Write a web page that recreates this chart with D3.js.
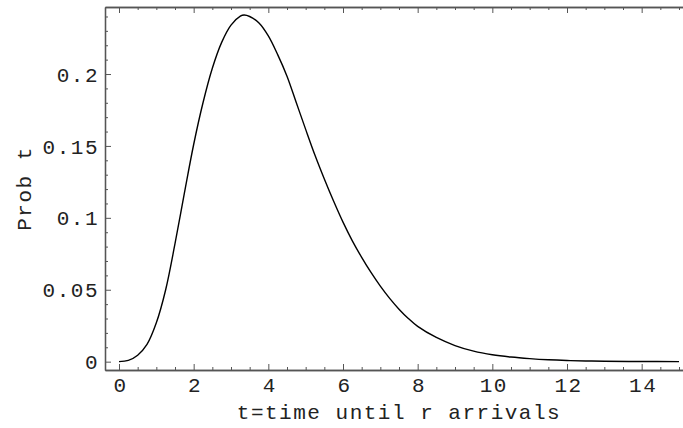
<!DOCTYPE html>
<html>
<head>
<meta charset="utf-8">
<script src="https://cdn.jsdelivr.net/npm/d3@7"></script>
<style>
  body { margin: 0; background: #fff; }
  svg { display: block; }
  text { font-family: "Liberation Mono", "DejaVu Sans Mono", monospace; fill: #222; }
</style>
</head>
<body>
<div id="chart"></div>
<script>
// curve samples
const tValues = [0, 0.25, 0.5, 0.75, 1.0, 1.25, 1.5, 1.75, 2.0, 2.25, 2.5, 2.75, 3.0, 3.25, 3.35, 3.5, 3.75,
  4.0, 4.25, 4.5, 4.75, 5.0, 5.25, 5.5, 5.75, 6.0, 6.25, 6.5, 6.75, 7.0, 7.25, 7.5, 7.75, 8.0, 8.5, 9.0,
  9.5, 10.0, 10.5, 11.0, 11.5, 12.0, 12.5, 13.0, 14.0, 15.0];
const probValues = [0, 0.0009, 0.0045, 0.012, 0.027, 0.050, 0.082, 0.117, 0.151, 0.180, 0.204, 0.222, 0.234, 0.2402, 0.241, 0.2400, 0.2355,
  0.2265, 0.2135, 0.1985, 0.180, 0.1615, 0.1435, 0.127, 0.1115, 0.097, 0.084, 0.0725, 0.062, 0.0525, 0.044, 0.0365, 0.030, 0.0245, 0.0168, 0.0112,
  0.0073, 0.0048, 0.0032, 0.0021, 0.0013, 0.0008, 0.0005, 0.0003, 0.0001, 0.00002];

const xTicks = [0, 2, 4, 6, 8, 10, 12, 14];
const yTicks = [0, 0.05, 0.1, 0.15, 0.2];
const yTickLabels = ["0", "0.05", "0.1", "0.15", "0.2"];

const xLabel = "t=time until r arrivals";
const yLabel = "Prob t";

const width = 683, height = 428;
const frame = {left: 105, right: 693, top: 7, bottom: 370};

const x = d3.scaleLinear()
  .domain([-0.375, 15.375])
  .range([frame.left, frame.right]);

const y = d3.scaleLinear()
  .domain([-0.0058, 0.2466])
  .range([frame.bottom, frame.top]);

const svg = d3.select("#chart")
  .append("svg")
  .attr("width", width)
  .attr("height", height);

// minor ticks every 0.5 on x, every 0.01 on y
const xMinor = d3.range(0, 15.01, 0.5).filter(v => !xTicks.includes(v));
const yMinor = d3.range(0, 0.245, 0.01).filter(v => !yTicks.some(t => Math.abs(t - v) < 1e-9));

const frameColor = "#555";

function styleAxis(g) {
  g.select(".domain").attr("stroke", frameColor).attr("stroke-width", 1.3);
  g.selectAll(".tick line").attr("stroke", frameColor).attr("stroke-width", 1);
  g.selectAll(".tick text")
    .style("font-size", "21px")
    .style("letter-spacing", "1.5px")
    .attr("fill", "#222");
}

// bottom axis
svg.append("g")
  .attr("transform", `translate(0,${frame.bottom})`)
  .call(d3.axisBottom(x).tickValues(xMinor).tickSize(-3).tickSizeOuter(0).tickFormat(""))
  .call(styleAxis);
svg.append("g")
  .attr("transform", `translate(0,${frame.bottom})`)
  .call(d3.axisBottom(x).tickValues(xTicks).tickSize(-6).tickSizeOuter(0).tickPadding(8).tickFormat(d3.format("d")))
  .call(styleAxis)
  .call(g => g.selectAll(".tick text").attr("y", 22).attr("dy", 0).attr("dx", "1px"));

// top axis (frame)
svg.append("g")
  .attr("transform", `translate(0,${frame.top})`)
  .call(d3.axisTop(x).tickValues(xMinor).tickSize(-3).tickSizeOuter(0).tickFormat(""))
  .call(styleAxis);
svg.append("g")
  .attr("transform", `translate(0,${frame.top})`)
  .call(d3.axisTop(x).tickValues(xTicks).tickSize(-6).tickSizeOuter(0).tickFormat(""))
  .call(styleAxis);

// left axis
svg.append("g")
  .attr("transform", `translate(${frame.left},0)`)
  .call(d3.axisLeft(y).tickValues(yMinor).tickSize(-3).tickSizeOuter(0).tickFormat(""))
  .call(styleAxis);
svg.append("g")
  .attr("transform", `translate(${frame.left},0)`)
  .call(d3.axisLeft(y).tickValues(yTicks).tickSize(-6).tickSizeOuter(0).tickPadding(6)
    .tickFormat((d, i) => yTickLabels[i]))
  .call(styleAxis)
  .call(g => g.selectAll(".tick text").attr("dy", "0.34em"));

// right axis (mostly outside the window)
svg.append("g")
  .attr("transform", `translate(${frame.right},0)`)
  .call(d3.axisRight(y).tickValues(yTicks).tickSize(-6).tickSizeOuter(0).tickFormat(""))
  .call(styleAxis);

// curve
const pts = tValues.map((t, i) => ({t: t, p: probValues[i]}));
const line = d3.line()
  .x(d => x(d.t))
  .y(d => y(d.p))
  .curve(d3.curveCatmullRom.alpha(0.5));

svg.append("path")
  .datum(pts)
  .attr("fill", "none")
  .attr("stroke", "#000")
  .attr("stroke-width", 1.4)
  .attr("d", line);

// axis titles
svg.append("text")
  .attr("x", (frame.left + frame.right) / 2)
  .attr("y", 419)
  .attr("text-anchor", "middle")
  .style("font-size", "21px")
  .style("letter-spacing", "1.5px")
  .text(xLabel);

svg.append("text")
  .attr("transform", `translate(31,${(frame.top + frame.bottom) / 2}) rotate(-90)`)
  .attr("text-anchor", "middle")
  .style("font-size", "21px")
  .style("letter-spacing", "1.5px")
  .text(yLabel);
</script>
</body>
</html>
